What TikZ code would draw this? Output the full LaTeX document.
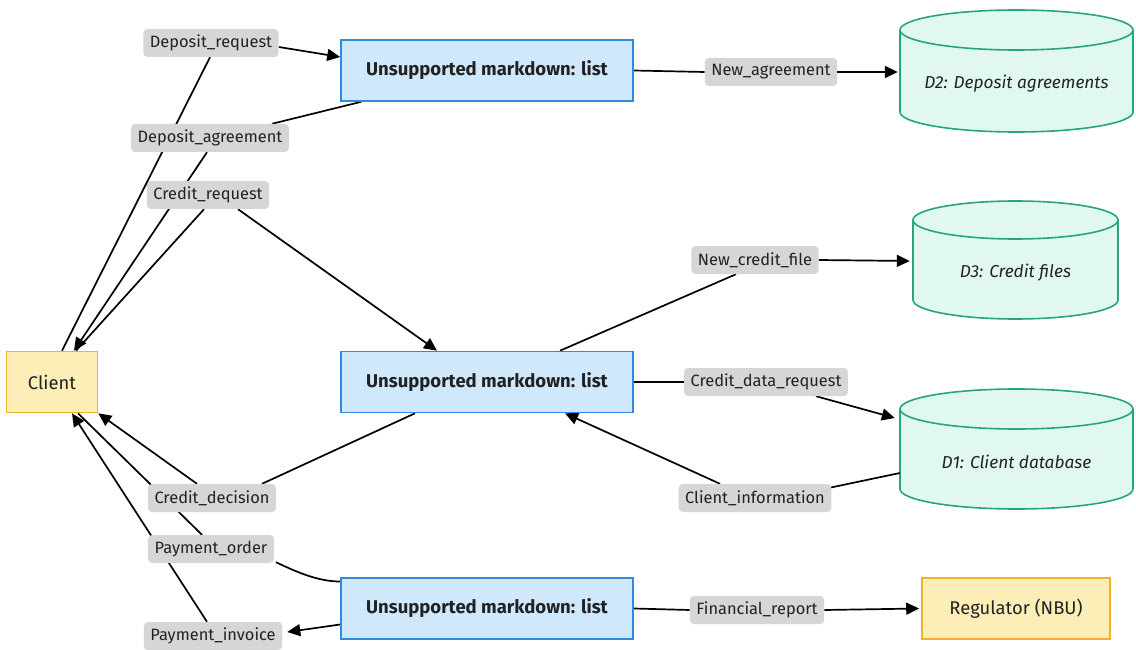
\documentclass[tikz,border=0pt]{standalone}
\usepackage{fontspec}
\setmainfont{Fira Sans}
\usetikzlibrary{arrows.meta,backgrounds,calc}
\definecolor{procfill}{HTML}{D0E8FC}
\definecolor{procline}{HTML}{2E8CE0}
\definecolor{extfill}{HTML}{FDEDB6}
\definecolor{extline}{HTML}{F3B12E}
\definecolor{cylfillc}{HTML}{E0F8F0}
\definecolor{cyllinec}{HTML}{27A57F}
\definecolor{lblfill}{HTML}{D6D6D6}
\definecolor{txt}{HTML}{222222}

\newcommand\drawdb[5]{% cx cy w h ry
  \pgfmathsetmacro\dbL{#1-#3/2}\pgfmathsetmacro\dbR{#1+#3/2}%
  \pgfmathsetmacro\dbT{#2-#4/2+#5}\pgfmathsetmacro\dbB{#2+#4/2-#5}%
  \pgfmathsetmacro\dbRX{#3/2}%
  \fill[cylfillc] (\dbL,\dbT) rectangle (\dbR,\dbB);
  \fill[cylfillc] (#1,\dbB) ellipse [x radius=\dbRX, y radius=#5];
  \begin{scope}
    \clip (\dbL-3,\dbB) rectangle (\dbR+3,\dbB+#5+3);
    \draw[dbline] (#1,\dbB) ellipse [x radius=\dbRX, y radius=#5];
  \end{scope}
  \filldraw[dbline, fill=cylfillc] (#1,\dbT) ellipse [x radius=\dbRX, y radius=#5];
  \draw[dbline] (\dbL,\dbT) -- (\dbL,\dbB) (\dbR,\dbT) -- (\dbR,\dbB);
}

\tikzset{
 proc/.style={draw=procline, fill=procfill, line width=1.6pt, minimum width=292pt, minimum height=61pt, font=\bfseries\fontsize{18.5}{22}\selectfont, text=txt},
 ext/.style={draw=extline, fill=extfill, line width=1.6pt, minimum height=61pt, font=\fontsize{18.4}{22}\selectfont, text=txt},
 store/.style={inner sep=0pt, text height=35pt, text depth=0pt, font=\itshape\fontsize{17.3}{21}\selectfont, text=txt},
 dbline/.style={draw=cyllinec, line width=1.6pt},
 lbl/.style={fill=lblfill, rounded corners=4pt, inner xsep=6.5pt, inner ysep=0pt, minimum height=28pt, font=\fontsize{16.4}{20}\selectfont, text=txt},
 flow/.style={line width=1.7pt, draw=black},
 arr/.style={flow, -{Triangle[length=13pt,width=12pt]}},
}

\begin{document}
\begin{tikzpicture}[x=1pt,y=-1pt]
\useasboundingbox (0,0) rectangle (1136,650);

% main nodes
\node[ext, minimum width=91pt] (client) at (52,382) {Client};
\node[proc] (p1) at (487,70.5) {Unsupported markdown: list};
\node[proc] (p2) at (487,382) {Unsupported markdown: list};
\node[proc] (p3) at (487,608.5) {Unsupported markdown: list};
\node[ext, minimum width=188pt] (reg) at (1016,608.5) {Regulator (NBU)};
\node[store, minimum width=233pt, minimum height=122pt] (d2) at (1016.5,71) {D2: Deposit agreements};
\node[store, minimum width=205pt, minimum height=118pt] (d3) at (1015.5,260) {D3: Credit files};
\node[store, minimum width=233pt, minimum height=120pt, text height=38pt] (d1) at (1016.5,449) {D1: Client database};

% labels
\node[lbl] (dreq) at (211,43) {Deposit\_request};
\node[lbl] (dagr) at (210,138) {Deposit\_agreement};
\node[lbl] (creq) at (208,195) {Credit\_request};
\node[lbl] (nagr) at (771,72) {New\_agreement};
\node[lbl] (ncf) at (755,260) {New\_credit\_file};
\node[lbl] (cdr) at (766,382) {Credit\_data\_request};
\node[lbl] (cinf) at (755,498) {Client\_information};
\node[lbl] (cdec) at (212,498) {Credit\_decision};
\node[lbl] (pord) at (211,549) {Payment\_order};
\node[lbl] (pinv) at (213,636) {Payment\_invoice};
\node[lbl] (frep) at (757,610) {Financial\_report};

\begin{pgfonlayer}{background}
\fill[white] (0,0) rectangle (1136,650);
\drawdb{1016.5}{71}{233}{122}{20}
\drawdb{1015.5}{260}{205}{118}{19}
\drawdb{1016.5}{449}{233}{120}{20}

% Deposit_request
\draw[flow] ([xshift=10pt]client.north) -- ([xshift=-1pt]dreq.south);
\draw[arr] ([yshift=-4pt]dreq.east) -- ([yshift=13.5pt]p1.west);
% Deposit_agreement
\draw[flow] ([xshift=21pt]p1.south west) -- ([xshift=62pt]dagr.north);
\draw[arr] ([xshift=-3pt]dagr.south) -- ([xshift=22pt]client.north);
% Credit_request
\draw[flow] ([xshift=24pt]client.north) -- ([xshift=-4pt]creq.south);
\draw[arr] ([xshift=30pt]creq.south) -- ([xshift=-50pt]p2.north);
% Credit_decision
\draw[flow] ([xshift=-72pt]p2.south) -- ([xshift=50pt]cdec.north);
\draw[arr] ([xshift=-15pt]cdec.north) -- (client.south east);
% Payment_order
\draw[flow] ([xshift=26pt]client.south) -- ([xshift=-9pt]pord.north);
\draw[flow] ([xshift=2pt,yshift=1pt]pord.south east) .. controls +(23,11) and +(-21,0) .. ([yshift=27pt]p3.west);
% Payment_invoice
\draw[arr] ([yshift=-16pt]p3.west) -- ([xshift=5pt,yshift=4pt]pinv.east);
\draw[arr] ([xshift=-6pt]pinv.north) -- ([xshift=20pt]client.south);
% New_agreement
\draw[flow] (p1.east) -- (nagr.west);
\draw[arr] (nagr.east) -- ([xshift=-2pt,yshift=-1pt]d2.west);
% New_credit_file
\draw[flow] ([xshift=73pt]p2.north) -- ([xshift=-19pt]ncf.south);
\draw[arr] (ncf.east) -- ([xshift=-3pt,yshift=-1pt]d3.west);
% Credit_data_request
\draw[flow] (p2.east) -- (cdr.west);
\draw[arr] ([xshift=50pt]cdr.south) -- ([xshift=-5pt,yshift=31pt]d1.west);
% Client_information
\draw[flow] ([yshift=-24pt]d1.west) -- ([xshift=-3pt,yshift=10pt]cinf.east);
\draw[arr] ([xshift=-35pt]cinf.north) -- ([xshift=78pt]p2.south);
% Financial_report
\draw[flow] (p3.east) -- (frep.west);
\draw[arr] (frep.east) -- ([xshift=-2pt]reg.west);
\end{pgfonlayer}
\end{tikzpicture}
\end{document}
